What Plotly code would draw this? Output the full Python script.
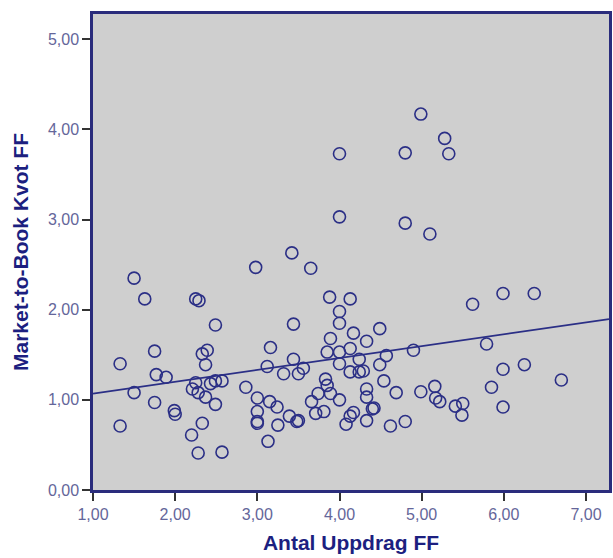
import numpy as np
import plotly.graph_objects as go

# Antal Uppdrag FF (x) and Market-to-Book Kvot FF (y)
antal_uppdrag = [
    4.00, 4.00, 4.80, 4.80, 4.99, 5.28, 5.33, 5.10, 2.98, 3.42, 3.65, 1.50,
    1.63, 2.25, 2.29, 3.88, 4.13, 5.62, 5.99, 6.37, 2.49, 3.44, 4.00, 4.00,
    4.49, 4.17, 4.33, 3.89, 3.16, 3.85, 4.00, 4.13, 3.44, 4.57, 4.90, 5.79,
    1.75, 2.39, 2.33, 1.33, 2.37, 1.77, 1.89, 1.50, 2.25, 2.21, 2.28, 2.37,
    2.43, 2.49, 2.57, 2.49, 1.75, 1.99, 2.00, 1.33, 2.33, 2.20, 2.28, 2.57,
    2.86, 3.00, 3.00, 3.00, 3.00,
    3.12, 3.32, 3.50, 3.56, 4.00, 4.13, 4.24, 4.29, 4.24, 4.49, 4.54, 4.69,
    4.99, 4.33, 4.33, 4.42, 4.40, 4.33, 4.62, 4.80, 3.83, 3.85, 3.74, 3.89,
    4.00, 3.66, 3.71, 3.81, 4.17, 4.13, 4.08, 3.15, 3.24, 3.39, 3.48, 3.50,
    3.25, 3.13,
    5.99, 6.25, 6.70, 5.85, 5.99, 5.16, 5.17, 5.22, 5.41, 5.50, 5.49,
]
market_to_book = [
    3.73, 3.03, 3.74, 2.96, 4.17, 3.90, 3.73, 2.84, 2.47, 2.63, 2.46, 2.35,
    2.12, 2.12, 2.10, 2.14, 2.12, 2.06, 2.18, 2.18, 1.83, 1.84, 1.98, 1.85,
    1.79, 1.74, 1.65, 1.68, 1.58, 1.53, 1.53, 1.57, 1.45, 1.49, 1.55, 1.62,
    1.54, 1.55, 1.51, 1.40, 1.39, 1.28, 1.25, 1.08, 1.19, 1.12, 1.08, 1.03,
    1.18, 1.21, 1.21, 0.95, 0.97, 0.88, 0.84, 0.71, 0.74, 0.61, 0.41, 0.42,
    1.14, 1.02, 0.87, 0.76, 0.74,
    1.37, 1.29, 1.29, 1.35, 1.40, 1.31, 1.31, 1.32, 1.45, 1.39, 1.21, 1.08,
    1.09, 1.12, 1.03, 0.91, 0.90, 0.77, 0.71, 0.76, 1.23, 1.16, 1.07, 1.07,
    1.00, 0.98, 0.85, 0.87, 0.86, 0.82, 0.73, 0.98, 0.92, 0.82, 0.76, 0.77,
    0.72, 0.54,
    1.34, 1.39, 1.22, 1.14, 0.92, 1.15, 1.02, 0.98, 0.93, 0.96, 0.83,
]

x_range = [1.0, 7.28]
y_range = [0.0, 5.28]
x_ticks = [1, 2, 3, 4, 5, 6, 7]
y_ticks = [0, 1, 2, 3, 4, 5]

x = np.array(antal_uppdrag)
y = np.array(market_to_book)
slope, intercept = np.polyfit(x, y, 1)
fit_x = np.array(x_range)
fit_y = intercept + slope * fit_x

navy = "#2b2f86"
fig = go.Figure()
fig.add_trace(go.Scatter(
    x=x, y=y, mode="markers",
    marker=dict(symbol="circle-open", size=12, color=navy, line=dict(width=1.6, color=navy)),
    showlegend=False, hoverinfo="skip",
))
fig.add_trace(go.Scatter(
    x=fit_x, y=fit_y, mode="lines",
    line=dict(color=navy, width=1.6), showlegend=False, hoverinfo="skip",
))

tick_font = dict(family="Liberation Sans, Arial", size=16, color="#64669a")
title_font = dict(family="Liberation Sans, Arial", size=21, color="#1c1f80")

fig.update_layout(
    width=613, height=558,
    margin=dict(l=93, r=1, t=14, b=68),
    paper_bgcolor="white", plot_bgcolor="#cfcfcf",
    separators=", ",
    xaxis=dict(
        range=x_range, tickvals=x_ticks, tickformat=".2f",
        showgrid=False, zeroline=False,
        showline=True, linecolor="#2a2c7c", linewidth=2.5, mirror=True,
        ticks="outside", ticklen=8, tickwidth=2, tickcolor="#333333",
        tickfont=tick_font,
        title=dict(text="<b>Antal Uppdrag FF</b>", font=title_font, standoff=14),
    ),
    yaxis=dict(
        range=y_range, tickvals=y_ticks, tickformat=".2f",
        showgrid=False, zeroline=False,
        showline=True, linecolor="#2a2c7c", linewidth=2.5, mirror=True,
        ticks="outside", ticklen=8, tickwidth=2, tickcolor="#333333",
        tickfont=tick_font,
        title=dict(text="<b>Market-to-Book Kvot FF</b>", font=title_font, standoff=14),
    ),
)

fig.write_html(
    "out.html",
    config={"displayModeBar": False},
    post_script="document.body.style.margin='0';document.body.style.overflow='hidden';",
)
